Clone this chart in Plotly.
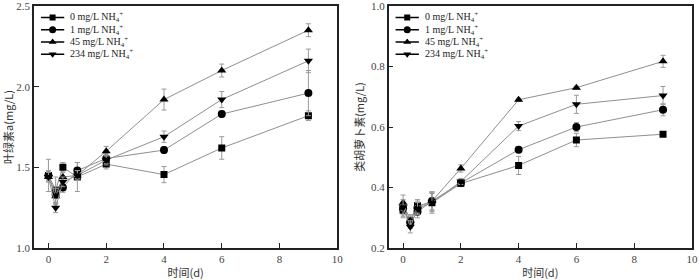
import plotly.graph_objects as go

days = [0, 0.25, 0.5, 1, 2, 4, 6, 9]
series_names = ["0 mg/L NH<sub>4</sub><sup>+</sup>", "1 mg/L NH<sub>4</sub><sup>+</sup>",
                "45 mg/L NH<sub>4</sub><sup>+</sup>", "234 mg/L NH<sub>4</sub><sup>+</sup>"]
symbols = ["square", "circle", "triangle-up", "triangle-down"]
msizes = [7, 8, 8, 8]

# Chlorophyll a (mg/L)
chl_0 = [1.45, 1.36, 1.50, 1.44, 1.52, 1.455, 1.62, 1.82]
chl_1 = [1.45, 1.33, 1.375, 1.48, 1.555, 1.607, 1.83, 1.96]
chl_45 = [1.44, 1.32, 1.44, 1.45, 1.60, 1.92, 2.10, 2.35]
chl_234 = [1.44, 1.25, 1.41, 1.45, 1.545, 1.69, 1.92, 2.16]
chl_0_err = [0.10, 0.08, 0.03, 0.09, 0.03, 0.05, 0.07, 0.03]
chl_1_err = [0.03, 0.05, 0.03, 0.05, 0.03, 0.02, 0.02, 0.14]
chl_45_err = [0.03, 0.05, 0.03, 0.03, 0.03, 0.065, 0.04, 0.04]
chl_234_err = [0.03, 0.03, 0.03, 0.03, 0.03, 0.035, 0.05, 0.073]

# Carotenoids (mg/L)
car_0 = [0.325, 0.29, 0.34, 0.35, 0.413, 0.473, 0.557, 0.576]
car_1 = [0.33, 0.285, 0.32, 0.355, 0.415, 0.525, 0.60, 0.657]
car_45 = [0.35, 0.29, 0.335, 0.355, 0.463, 0.69, 0.73, 0.817]
car_234 = [0.335, 0.27, 0.33, 0.35, 0.42, 0.603, 0.675, 0.704]
car_0_err = [0.025, 0.02, 0.02, 0.035, 0.01, 0.03, 0.022, 0.005]
car_1_err = [0.025, 0.02, 0.02, 0.03, 0.01, 0.008, 0.015, 0.02]
car_45_err = [0.025, 0.02, 0.02, 0.03, 0.012, 0.005, 0.005, 0.02]
car_234_err = [0.025, 0.02, 0.02, 0.03, 0.01, 0.015, 0.03, 0.03]

x_ticks = [0, 2, 4, 6, 8, 10]
chl_ticks = [1.0, 1.5, 2.0, 2.5]
car_ticks = [0.2, 0.4, 0.6, 0.8, 1.0]

serif = "Liberation Serif, Times New Roman, serif"
cjk = "Noto Sans CJK SC"
line_gray = "#8f8f8f"
err_gray = "#9a9a9a"

# plot-area geometry (pixels) used for the hand-drawn legend overlay
W, H = 700, 280
M_T, M_B = 1, 32
PH = H - M_T - M_B
dom_left = [0.049, 0.486]
dom_right = [0.560, 0.997]
PW = (dom_left[1] - dom_left[0]) * W
leg_rows = [11.7, 24.3, 36.7, 49.3]   # px from top of plot area
leg_line = [7.0, 30.5]                 # px from left axis
leg_text_x = 34.5

fig = go.Figure()

panels = [
    ("x", "y", "x3", "y3", [chl_0, chl_1, chl_45, chl_234], [chl_0_err, chl_1_err, chl_45_err, chl_234_err]),
    ("x2", "y2", "x4", "y4", [car_0, car_1, car_45, car_234], [car_0_err, car_1_err, car_45_err, car_234_err]),
]

for xa, ya, lxa, lya, vals, errs in panels:
    for i in range(4):
        fig.add_trace(go.Scatter(
            x=days, y=vals[i], xaxis=xa, yaxis=ya, mode="lines+markers",
            line=dict(color=line_gray, width=1),
            marker=dict(symbol=symbols[i], size=msizes[i], color="black"),
            error_y=dict(type="data", array=errs[i], color=err_gray, thickness=1, width=2.5),
            name=series_names[i], showlegend=False))
    # legend keys (line + marker), drawn in a pixel-unit overlay
    for i in range(4):
        yy = PH - leg_rows[i]
        fig.add_trace(go.Scatter(
            x=leg_line, y=[yy, yy], xaxis=lxa, yaxis=lya, mode="lines",
            line=dict(color="black", width=1.5), showlegend=False, hoverinfo="skip"))
        fig.add_trace(go.Scatter(
            x=[sum(leg_line) / 2], y=[yy], xaxis=lxa, yaxis=lya, mode="markers",
            marker=dict(symbol=symbols[i], size=msizes[i] - 1, color="black"),
            showlegend=False, hoverinfo="skip"))
        fig.add_annotation(x=leg_text_x, y=yy, xref=lxa, yref=lya, text=series_names[i],
                           showarrow=False, xanchor="left", yanchor="middle",
                           font=dict(family=serif, size=10, color="#222"))

axis_common = dict(showline=True, linecolor="#222", linewidth=1.5, mirror=True,
                   ticks="inside", ticklen=5, tickcolor="#222", showgrid=False, zeroline=False,
                   ticklabeloverflow="allow",
                   tickfont=dict(family=serif, size=11, color="#444"))
overlay_common = dict(visible=False, showgrid=False, zeroline=False, fixedrange=True)
title_font = dict(family=cjk, size=11, color="#333")

fig.update_layout(
    width=W, height=H,
    margin=dict(l=0, r=0, t=M_T, b=M_B),
    paper_bgcolor="white", plot_bgcolor="white",
    showlegend=False,
    xaxis=dict(domain=dom_left, range=[-0.5, 10], tickvals=x_ticks, anchor="y",
               title=dict(text="时间(d)", font=title_font, standoff=5), **axis_common),
    yaxis=dict(domain=[0, 1], range=[1.0, 2.5], tickvals=chl_ticks, tickformat=".1f", anchor="x",
               title=dict(text="叶绿素a(mg/L)", font=title_font, standoff=1), **axis_common),
    xaxis2=dict(domain=dom_right, range=[-0.5, 10], tickvals=x_ticks, anchor="y2",
                title=dict(text="时间(d)", font=title_font, standoff=5), **axis_common),
    yaxis2=dict(domain=[0, 1], range=[0.2, 1.0], tickvals=car_ticks, tickformat=".1f", anchor="x2",
                title=dict(text="类胡萝卜素(mg/L)", font=title_font, standoff=4), **axis_common),
    xaxis3=dict(overlaying="x", range=[0, PW], anchor="y3", **overlay_common),
    yaxis3=dict(overlaying="y", range=[0, PH], anchor="x3", **overlay_common),
    xaxis4=dict(overlaying="x2", range=[0, PW], anchor="y4", **overlay_common),
    yaxis4=dict(overlaying="y2", range=[0, PH], anchor="x4", **overlay_common),
)

fig.write_html("out.html", config={"displayModeBar": False},
               post_script="document.body.style.margin='0';")
